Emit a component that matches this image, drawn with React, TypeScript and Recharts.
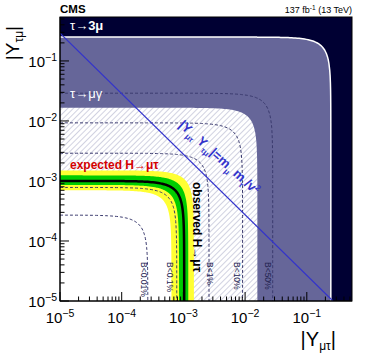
import React from "react";
import { Area, ComposedChart, Line, XAxis, YAxis } from "recharts";

const W = 374;
const H = 359;
const X_MIN = 1e-5;
const X_MAX = 0.54;

// limits as [|Y_mutau| radius, |Y_taumu| radius]
const tau3mu = [0.245, 0.25];
const tauMuGamma = [0.0158, 0.0166];
const yellowOuter = [1.48e-3, 1.5e-3];
const greenOuter = [1.2e-3, 1.24e-3];
const greenInner = [8.5e-4, 8.6e-4];
const yellowInner = [6.4e-4, 7.0e-4];
const observed = [1.03e-3, 1.0e-3];

const brLabels = ["B<0.01%", "B<0.1%", "B<1%", "B<10%", "B<50%"];
const brRadii = [
  [2.65e-4, 2.7e-4],
  [7.8e-4, 7.8e-4],
  [2.6e-3, 2.9e-3],
  [9.1e-3, 9.3e-3],
  [0.028, 0.029],
];
const brLabelX = [141, 167, 207, 234, 265];

// naturalness line |Y Y| = m_mu m_tau / v^2, end points on the frame
const naturalX = [1e-5, 0.265];
const naturalY = [0.29, 1e-5];

const decades = [-5, -4, -3, -2, -1];

const allShapes = [tau3mu, tauMuGamma, yellowOuter, greenOuter, greenInner, yellowInner, observed, ...brRadii];

// x positions to sample the contours at
const xs = new Set<number>([...naturalX, X_MAX]);
for (let i = 0; i <= 160; i++) xs.add(X_MIN * Math.pow(X_MAX / X_MIN, i / 160));
allShapes.forEach(([rx, ry]) => {
  const sMin = X_MIN / ry;
  for (let i = 0; i <= 40; i++) {
    const s = sMin * Math.pow(0.999 / sMin, i / 40);
    xs.add(rx * Math.sqrt(1 - s * s));
  }
  xs.add(rx);
});
const grid = [...xs].filter((x) => x >= X_MIN && x <= X_MAX).sort((a, b) => a - b);

const edge = (x: number, r: number[]) =>
  x > r[0] ? null : Math.max(X_MIN, r[1] * Math.sqrt(Math.max(0, 1 - (x / r[0]) ** 2)));

const rows = grid.map((x) => {
  const row: Record<string, number | null> = {
    x,
    bg: X_MAX,
    t3m: edge(x, tau3mu),
    tmg: edge(x, tauMuGamma),
    yo: edge(x, yellowOuter),
    go: edge(x, greenOuter),
    gi: edge(x, greenInner),
    yi: edge(x, yellowInner),
    obs: edge(x, observed),
    nat: null,
  };
  brRadii.forEach((r, i) => (row["b" + i] = edge(x, r)));
  naturalX.forEach((nx, i) => {
    if (nx === x) row.nat = naturalY[i];
  });
  return row;
});

const ticks: number[] = [];
decades.forEach((d) => {
  for (let k = 1; k <= 9; k++) {
    const v = k * Math.pow(10, d);
    if (v <= X_MAX) ticks.push(v);
  }
});

const isMajor = (v: number) => Math.abs(Math.log10(v) - Math.round(Math.log10(v))) < 1e-6;
const font = "'Liberation Sans', Arial, sans-serif";

const XTick = (p: any) => {
  const { x, y, payload } = p;
  const major = isMajor(payload.value);
  const e = Math.round(Math.log10(payload.value));
  return (
    <g>
      <line x1={x} y1={y} x2={x} y2={y - (major ? 9 : 4.5)} stroke="#000" />
      {major && (
        <text x={x} y={y + 22} textAnchor="middle" fontSize={15} fontFamily={font} fill="#000">
          10<tspan dy={-6} fontSize={10.5}>{"\u2212" + -e}</tspan>
        </text>
      )}
    </g>
  );
};

const YTick = (p: any) => {
  const { x, y, payload } = p;
  const major = isMajor(payload.value);
  const e = Math.round(Math.log10(payload.value));
  return (
    <g>
      <line x1={x} y1={y} x2={x + (major ? 9 : 4.5)} y2={y} stroke="#000" />
      {major && (
        <text x={x - 3} y={y + 6} textAnchor="end" fontSize={15} fontFamily={font} fill="#000">
          10<tspan dy={-6} fontSize={10.5}>{"\u2212" + -e}</tspan>
        </text>
      )}
    </g>
  );
};

const area = (key: string, fill: string) => (
  <Area
    key={key}
    dataKey={key}
    type="linear"
    fill={fill}
    fillOpacity={1}
    stroke="none"
    baseValue="dataMin"
    dot={false}
    activeDot={false}
    isAnimationActive={false}
  />
);

export default function App() {
  return (
    <div style={{ position: "absolute", left: 0, top: 0, width: W, height: H, background: "#fff" }}>
      <svg width={0} height={0} style={{ position: "absolute" }}>
        <defs>
          <pattern id="hatch" patternUnits="userSpaceOnUse" width={4} height={4} patternTransform="rotate(45)">
            <rect width={4} height={4} fill="#fff" />
            <line x1={0} y1={0} x2={0} y2={4} stroke="#a3a6c4" strokeWidth={1} />
          </pattern>
        </defs>
      </svg>
      <ComposedChart width={W} height={H} data={rows} margin={{ top: 17, right: 22, bottom: 0, left: 0 }}>
        {area("bg", "#000033")}
        {area("t3m", "#666699")}
        {area("tmg", "url(#hatch)")}
        {area("yo", "#ffff33")}
        {area("go", "#00cc00")}
        {area("gi", "#ffff33")}
        {area("yi", "#ffffff")}
        <Line dataKey="t3m" type="linear" stroke="#ffffff" strokeWidth={1.5} dot={false} activeDot={false} isAnimationActive={false} />
        {brRadii.map((_, i) => (
          <Line
            key={i}
            dataKey={"b" + i}
            type="linear"
            stroke="#3a3a6e"
            strokeWidth={1}
            strokeDasharray="3 2"
            dot={false}
            activeDot={false}
            isAnimationActive={false}
          />
        ))}
        <Line dataKey="obs" type="linear" stroke="#000" strokeWidth={2.5} dot={false} activeDot={false} isAnimationActive={false} />
        <Line dataKey="nat" type="linear" connectNulls stroke="#3333cc" strokeWidth={1.2} dot={false} activeDot={false} isAnimationActive={false} />
        <XAxis
          dataKey="x"
          type="number"
          scale="log"
          domain={[X_MIN, X_MAX]}
          allowDataOverflow
          ticks={ticks}
          interval={0}
          height={58}
          tickSize={0}
          tickMargin={0}
          tickLine={false}
          tick={XTick}
          axisLine={{ stroke: "#000" }}
        />
        <YAxis
          type="number"
          scale="log"
          domain={[X_MIN, X_MAX]}
          allowDataOverflow
          ticks={ticks}
          interval={0}
          width={60}
          tickSize={0}
          tickMargin={0}
          tickLine={false}
          tick={YTick}
          axisLine={{ stroke: "#000" }}
        />
      </ComposedChart>
      <svg width={W} height={H} style={{ position: "absolute", left: 0, top: 0, pointerEvents: "none" }} fontFamily={font}>
        <rect x={60} y={17} width={292} height={284} fill="none" stroke="#000" />
        <text x={60} y={13} fontSize={11.5} fontWeight="bold">CMS</text>
        <text x={352} y={13} fontSize={9} textAnchor="end">
          137 fb<tspan dy={-3} fontSize={6.5}>-1</tspan>
          <tspan dy={3}> (13 TeV)</tspan>
        </text>
        <text x={70} y={30} fontSize={13} fill="#fff">
          τ→<tspan fontWeight="bold">3μ</tspan>
        </text>
        <text x={70} y={98} fontSize={13} fill="#fff">τ→μγ</text>
        <text x={70} y={169} fontSize={12} fontWeight="bold" fill="#d40000">expected H→μτ</text>
        <text x={193} y={182} fontSize={12} fontWeight="bold" fill="#000" transform="rotate(90 193 182)">
          observed H→μτ
        </text>
        <text x={178} y={126} fontSize={13} fontWeight="bold" fill="#3333cc" transform="rotate(42 178 126)">
          |Y<tspan dy={4} fontSize={8}>μτ</tspan>
          <tspan dy={-4}> Y</tspan>
          <tspan dy={4} fontSize={8}>τμ</tspan>
          <tspan dy={-4}>|=m</tspan>
          <tspan dy={4} fontSize={8}>μ</tspan>
          <tspan dy={-4}> m</tspan>
          <tspan dy={4} fontSize={8}>τ</tspan>
          <tspan dy={-4}>/v</tspan>
          <tspan dy={-5} fontSize={8}>2</tspan>
        </text>
        {brLabels.map((t, i) => (
          <text
            key={t}
            x={brLabelX[i]}
            y={262}
            fontSize={8.5}
            fill="#22224f"
            transform={`rotate(90 ${brLabelX[i]} 262)`}
          >
            {t}
          </text>
        ))}
        <text x={19} y={26} fontSize={19} textAnchor="end" transform="rotate(-90 19 26)">
          |Y<tspan dy={4} fontSize={12}>τμ</tspan>
          <tspan dy={-4}>|</tspan>
        </text>
        <text x={336} y={346} fontSize={20} textAnchor="end">
          |Y<tspan dy={4} fontSize={12}>μτ</tspan>
          <tspan dy={-4}>|</tspan>
        </text>
      </svg>
    </div>
  );
}
